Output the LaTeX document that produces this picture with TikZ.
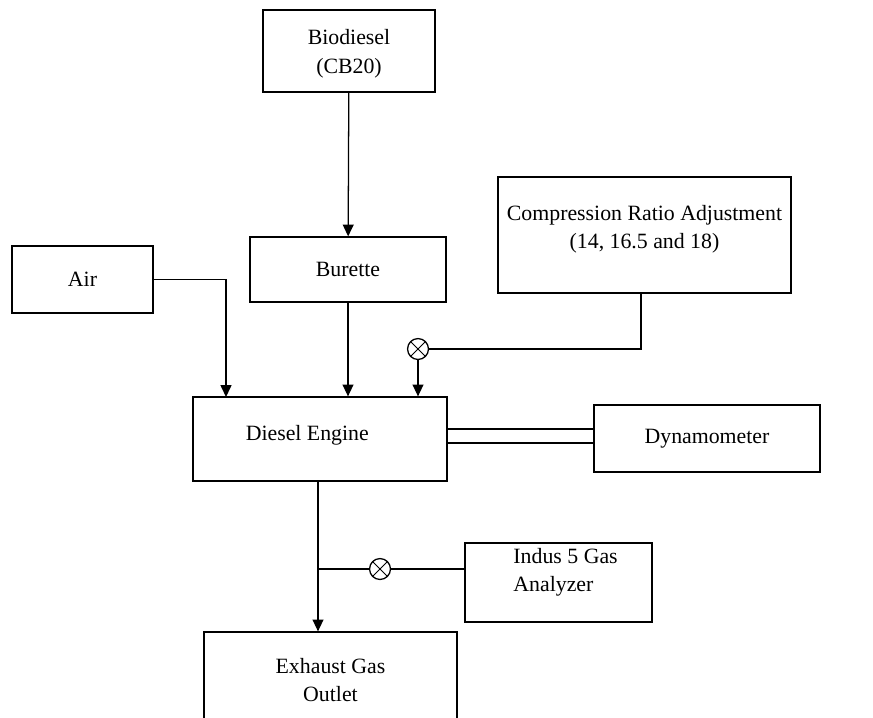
\documentclass[tikz,border=0pt]{standalone}
\usepackage{fontspec}
\setmainfont{Liberation Serif}
\usetikzlibrary{fit,arrows.meta}

\begin{document}
\begin{tikzpicture}[x=0.55pt,y=-0.55pt,line width=0.7pt,
  box/.style={draw, inner sep=0pt},
  txt/.style={align=center, font=\fontsize{12}{15.5}\selectfont},
  valve/.style={draw, circle, minimum size=11.5pt, inner sep=0pt,
    path picture={\draw[line width=0.5pt] (path picture bounding box.north west) -- (path picture bounding box.south east)
      (path picture bounding box.north east) -- (path picture bounding box.south west);}},
  >={Triangle[width=6pt,length=6.5pt]}]
  \clip (0,0) rectangle (873,717);
  \fill[white] (0,0) rectangle (873,717);
  % boxes
  \node[box, fit={(263,10) (435,92)}, label={[txt,yshift=-1.5pt]center:Biodiesel\\(CB20)}] (bio) {};
  \node[box, fit={(250,237) (446,302)}, label={[txt]center:Burette}] (bur) {};
  \node[box, fit={(12,246) (153,313)}, label={[txt]center:Air}] (air) {};
  \node[box, fit={(498,177) (791,293)}, label={[txt,yshift=3.3pt]center:Compression Ratio Adjustment\\(14, 16.5 and 18)}] (cra) {};
  \node[box, fit={(193,397) (447,481)}, label={[txt,xshift=-7pt,yshift=2pt]center:Diesel Engine}] (eng) {};
  \node[box, fit={(594,405) (820,472)}, label={[txt]center:Dynamometer}] (dyn) {};
  \node[box, fit={(465,543) (652,622)}, label={[txt,align=left,xshift=3.9pt,yshift=5.5pt]center:Indus 5 Gas\\Analyzer}] (gas) {};
  \node[box, fit={(204,632) (457,728)}, label={[txt]center:Exhaust Gas\\Outlet}] (exh) {};
  % valves
  \node[valve] (v1) at (418,349) {};
  \node[valve] (v2) at (380,569) {};
  \coordinate (ain) at (226,397);
  \coordinate (eout) at (318,481);
  \coordinate (tee) at (318,569);
  % connectors
  \draw[->] (bio) -- (bur);
  \draw[->] (air.east) -| (ain);
  \draw[->] (bur.south) -- (bur.south |- eng.north);
  \draw (cra.south -| 641,0) |- (v1);
  \draw[->] (v1) -- (v1 |- eng.north);
  \draw (eng.east |- 0,429) rectangle (dyn.west |- 0,443);
  \draw[->] (eout) -- (eout |- exh.north);
  \draw (tee) -- (v2) -- (v2 -| gas.west);
\end{tikzpicture}
\end{document}
